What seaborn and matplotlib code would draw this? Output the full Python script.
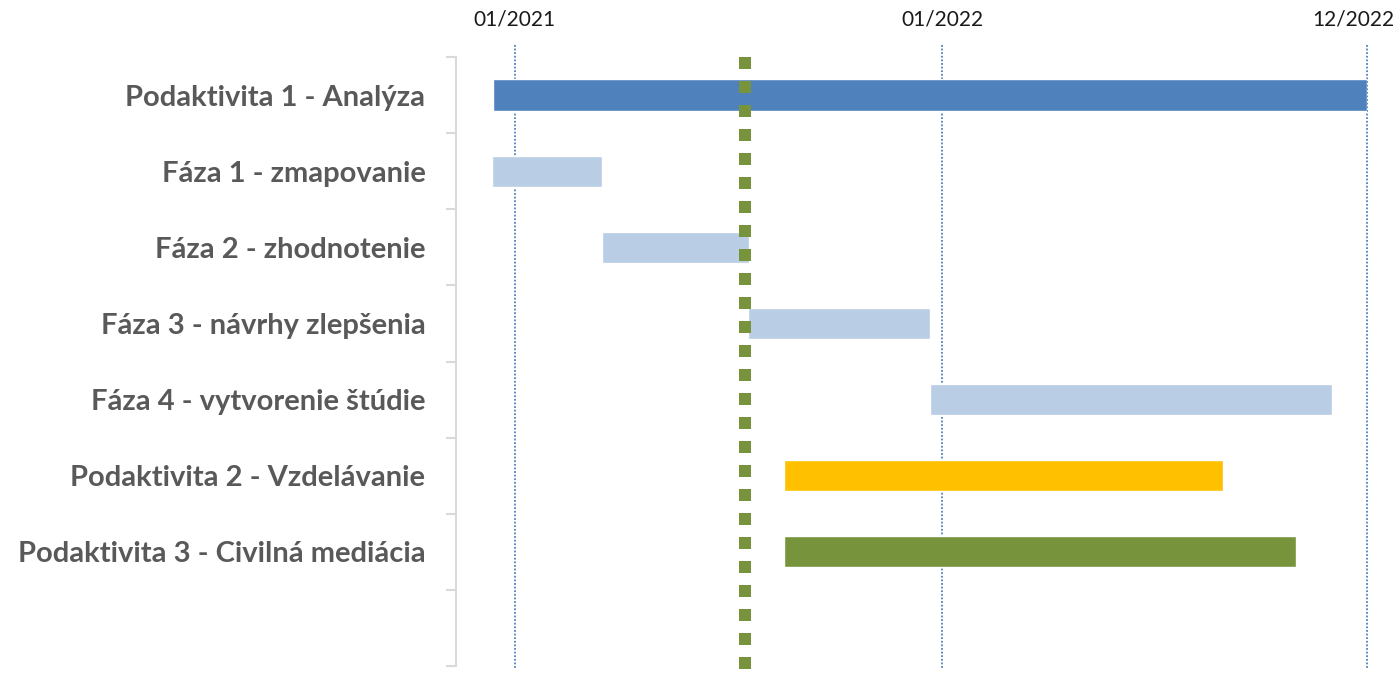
import numpy as np
import pandas as pd
import matplotlib
matplotlib.use("Agg")
import matplotlib.pyplot as plt
import matplotlib.dates as mdates
import matplotlib.transforms as mtransforms
import seaborn as sns

tasks = [
    "Podaktivita 1 - Analýza",
    "Fáza 1 - zmapovanie",
    "Fáza 2 - zhodnotenie",
    "Fáza 3 - návrhy zlepšenia",
    "Fáza 4 - vytvorenie štúdie",
    "Podaktivita 2 - Vzdelávanie",
    "Podaktivita 3 - Civilná mediácia",
]
starts = ["2020-12-14", "2020-12-13", "2021-03-17", "2021-07-19",
          "2021-12-22", "2021-08-19", "2021-08-19"]
ends = ["2022-12-30", "2021-03-17", "2021-07-20", "2021-12-22",
        "2022-11-30", "2022-08-29", "2022-10-30"]
colors = ["#4F81BD", "#B9CDE5", "#B9CDE5", "#B9CDE5", "#B9CDE5", "#FFC000", "#77933C"]
tick_dates = ["2021-01-01", "2022-01-01", "2022-12-30"]
today = "2021-07-17"
x_range = ["2020-11-12", "2022-12-30"]

df = pd.DataFrame({"task": tasks,
                   "start": pd.to_datetime(starts),
                   "end": pd.to_datetime(ends),
                   "color": colors})
df["s"] = mdates.date2num(df["start"])
df["dur"] = mdates.date2num(df["end"]) - df["s"]

sns.set_theme(style="white")
plt.rcParams["font.family"] = ["Lato", "DejaVu Sans"]

W, H = 1399, 678
fig = plt.figure(figsize=(W / 100, H / 100), dpi=100)
ax = fig.add_axes([456 / W, (H - 666) / H, (1367 - 456) / W, (666 - 57) / H])

ypos = np.arange(len(tasks))
ax.barh(ypos, df["dur"], left=df["s"], height=0.41, color=df["color"], zorder=3)

ax.set_ylim(len(tasks) + 0.5, -0.5)
ax.set_yticks(ypos)
ax.set_yticklabels(tasks, fontsize=21, fontweight="bold", color="#595959")
ax.set_yticks(np.arange(-0.5, len(tasks) + 1, 1), minor=True)
ax.tick_params(axis="y", which="major", length=0, pad=22)
ax.tick_params(axis="y", which="minor", length=7, width=1.5, color="#D9D9D9", left=True)

xt = mdates.date2num(pd.to_datetime(tick_dates))
xr = mdates.date2num(pd.to_datetime(x_range))
ax.set_xlim(xr[0], xr[1])
ax.xaxis.tick_top()
ax.set_xticks(xt)
ax.set_xticklabels([pd.Timestamp(d).strftime("%m/%Y") for d in tick_dates],
                   fontsize=15, color="#1a1a1a")
ax.tick_params(axis="x", length=0, pad=20)
last = ax.get_xticklabels()[-1]
last.set_transform(last.get_transform() +
                   mtransforms.ScaledTranslation(-14 / 100, 0, fig.dpi_scale_trans))

for s in ["top", "right", "bottom"]:
    ax.spines[s].set_visible(False)
ax.spines["left"].set_color("#D9D9D9")
ax.spines["left"].set_linewidth(1.5)

for x in xt:
    ax.plot([x, x], [1.02, -0.004], transform=ax.get_xaxis_transform(),
            color="#4F81BD", linestyle=(0, (1, 1)), linewidth=1.3,
            clip_on=False, zorder=2)

tx = mdates.date2num(pd.Timestamp(today))
ax.plot([tx, tx], [1.0, -0.03], transform=ax.get_xaxis_transform(),
        color="#77933C", linestyle=(0, (1, 1)), linewidth=8.64,
        dash_capstyle="butt", clip_on=False, zorder=5)

fig.savefig("out.png", dpi=100)
